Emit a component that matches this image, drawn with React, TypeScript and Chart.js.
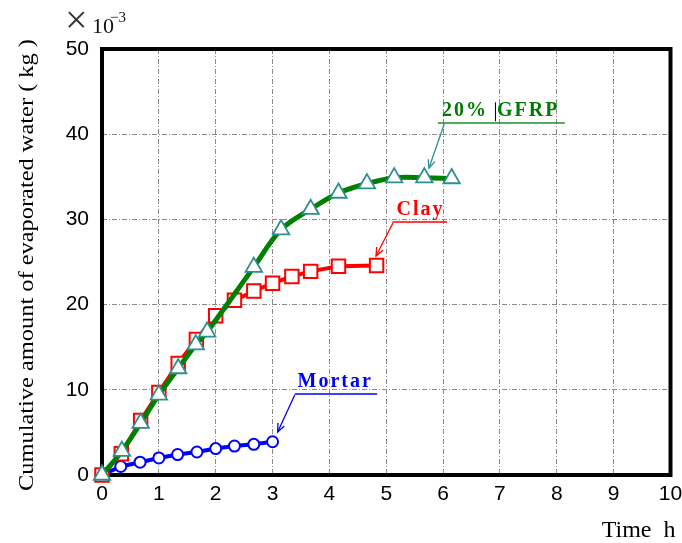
import React, { useEffect, useRef } from "react";
import { Chart, registerables } from "chart.js";

Chart.register(...registerables);

// ---- data ----
const gfrpTime = [0, 0.35, 0.68, 1.0, 1.34, 1.65, 1.85, 2.67, 3.15, 3.67, 4.16, 4.66, 5.14, 5.67, 6.15];
const gfrpWater = [0, 2.8, 6.1, 9.4, 12.5, 15.3, 16.8, 24.4, 28.8, 31.2, 33.1, 34.2, 34.9, 34.9, 34.8];

const clayTime = [0, 0.34, 0.68, 1.0, 1.34, 1.66, 2.0, 2.33, 2.67, 3.0, 3.34, 3.67, 4.16, 4.83];
const clayWater = [0, 2.5, 6.4, 9.7, 13.1, 15.9, 18.7, 20.5, 21.6, 22.5, 23.3, 23.9, 24.5, 24.6];

const mortarTime = [0, 0.33, 0.67, 1.0, 1.33, 1.67, 2.0, 2.33, 2.67, 3.0];
const mortarWater = [0, 1.0, 1.5, 2.0, 2.4, 2.7, 3.1, 3.4, 3.6, 3.9];

const xTicks = [0, 1, 2, 3, 4, 5, 6, 7, 8, 9, 10];
const yTicks = [0, 10, 20, 30, 40, 50];

const yTitle = "Cumulative amount of evaporated water ( kg )";
const xTitle = "Time  h";

// labels with leader lines, anchored in data units
const labels = [
  { text: "20% ", text2: "GFRP", color: "#007a00", lineColor: "#1f8f1f", arrowColor: "#2a8f8f",
    tx: 5.98, ty: 42.1, ux0: 5.91, ux1: 8.14, uy: 41.3, ax0: 6.02, ay0: 41.2, ax1: 5.75, ay1: 36.0 },
  { text: "Clay", text2: "", color: "#ff0000", lineColor: "#ff0000", arrowColor: "#ff0000",
    tx: 5.18, ty: 30.5, ux0: 5.11, ux1: 6.07, uy: 29.7, ax0: 5.12, ay0: 29.6, ax1: 4.82, ay1: 25.7 },
  { text: "Mortar", text2: "", color: "#0000ff", lineColor: "#0000ff", arrowColor: "#0000ff",
    tx: 3.44, ty: 10.3, ux0: 3.39, ux1: 4.84, uy: 9.5, ax0: 3.39, ay0: 9.4, ax1: 3.09, ay1: 5.05 },
];

const pts = (xs: number[], ys: number[]) => xs.map((x, i) => ({ x, y: ys[i] }));

function drawSpaced(ctx: CanvasRenderingContext2D, s: string, x: number, y: number, sp: number) {
  let cx = x;
  for (const ch of s) {
    ctx.fillText(ch, cx, y);
    cx += ctx.measureText(ch).width + sp;
  }
  return cx;
}

const decor = {
  id: "decor",
  beforeDatasetsDraw(chart: any) {
    const { ctx, chartArea: a } = chart;
    ctx.save();
    ctx.strokeStyle = "#000";
    ctx.lineWidth = 4;
    ctx.strokeRect(a.left, a.top, a.right - a.left, a.bottom - a.top);
    ctx.restore();
  },
  afterDraw(chart: any) {
    const { ctx, chartArea: a } = chart;
    const xs = chart.scales.x;
    const ys = chart.scales.y;
    ctx.save();
    // y title (stretched along its length to the reference span)
    ctx.fillStyle = "#000";
    ctx.font = '22px "Liberation Serif"';
    ctx.textAlign = "center";
    ctx.textBaseline = "alphabetic";
    const w = ctx.measureText(yTitle).width;
    const target = 452;
    ctx.save();
    ctx.translate(33, 265);
    ctx.rotate(-Math.PI / 2);
    ctx.scale(target / w, 1);
    ctx.fillText(yTitle, 0, 0);
    ctx.restore();
    // x title
    ctx.font = '24px "Liberation Serif"';
    ctx.textAlign = "right";
    ctx.fillText(xTitle, a.right + 5, 537);
    // multiplier
    ctx.textAlign = "left";
    ctx.font = '40px "Liberation Serif"';
    ctx.fillStyle = "#333";
    ctx.fillText("\u00d7", 65, 33);
    ctx.fillStyle = "#111";
    ctx.font = '22px "Liberation Serif"';
    ctx.fillText("10", 92, 33);
    ctx.font = '15px "Liberation Serif"';
    ctx.fillText("\u22123", 110, 22);

    // labels
    for (const l of labels) {
      const tx = xs.getPixelForValue(l.tx);
      const ty = ys.getPixelForValue(l.ty);
      ctx.font = 'bold 20px "Liberation Serif"';
      ctx.fillStyle = l.color;
      ctx.textAlign = "left";
      let end = drawSpaced(ctx, l.text, tx, ty, 2);
      if (l.text2) {
        ctx.strokeStyle = "#000";
        ctx.lineWidth = 1;
        ctx.beginPath();
        ctx.moveTo(end + 0.5, ty - 14);
        ctx.lineTo(end + 0.5, ty + 5);
        ctx.stroke();
        ctx.fillStyle = l.color;
        drawSpaced(ctx, l.text2, end + 2, ty, 2);
      }
      // underline
      ctx.strokeStyle = l.lineColor;
      ctx.lineWidth = 1.5;
      ctx.beginPath();
      ctx.moveTo(xs.getPixelForValue(l.ux0), ys.getPixelForValue(l.uy));
      ctx.lineTo(xs.getPixelForValue(l.ux1), ys.getPixelForValue(l.uy));
      ctx.stroke();
      // arrow
      const x0 = xs.getPixelForValue(l.ax0), y0 = ys.getPixelForValue(l.ay0);
      const x1 = xs.getPixelForValue(l.ax1), y1 = ys.getPixelForValue(l.ay1);
      ctx.strokeStyle = l.arrowColor;
      ctx.lineWidth = 1.3;
      ctx.beginPath();
      ctx.moveTo(x0, y0);
      ctx.lineTo(x1, y1);
      ctx.stroke();
      const ang = Math.atan2(y1 - y0, x1 - x0);
      const hl = 9, ha = 0.4;
      ctx.beginPath();
      ctx.moveTo(x1 - hl * Math.cos(ang - ha), y1 - hl * Math.sin(ang - ha));
      ctx.lineTo(x1, y1);
      ctx.lineTo(x1 - hl * Math.cos(ang + ha), y1 - hl * Math.sin(ang + ha));
      ctx.stroke();
    }
    ctx.restore();
  },
};

export default function App() {
  const ref = useRef<HTMLCanvasElement>(null);
  useEffect(() => {
    if (!ref.current) return;
    const chart = new Chart(ref.current, {
      type: "line",
      data: {
        datasets: [
          {
            label: "20% GFRP",
            data: pts(gfrpTime, gfrpWater),
            borderColor: "#008000",
            borderWidth: 5,
            tension: 0.35,
            pointStyle: "triangle",
            pointRadius: 9.5,
            pointBorderWidth: 1.8,
            pointBorderColor: "#2f8f8f",
            pointBackgroundColor: "#ffffff",
            clip: false as any,
          },
          {
            label: "Clay",
            data: pts(clayTime, clayWater),
            borderColor: "#ff0000",
            borderWidth: 4,
            tension: 0,
            pointStyle: "rect",
            pointRadius: 9.5,
            pointBorderWidth: 2,
            pointBorderColor: "#ff0000",
            pointBackgroundColor: "#ffffff",
            clip: false as any,
          },
          {
            label: "Mortar",
            data: pts(mortarTime, mortarWater),
            borderColor: "#0000ff",
            borderWidth: 4,
            tension: 0,
            pointStyle: "circle",
            pointRadius: 5.5,
            pointBorderWidth: 2,
            pointBorderColor: "#0000ff",
            pointBackgroundColor: "#ffffff",
            clip: false as any,
          },
        ],
      },
      options: {
        responsive: false,
        animation: false,
        layout: { padding: { left: 0, top: 49, right: 10, bottom: 0 } },
        plugins: { legend: { display: false }, tooltip: { enabled: false } },
        scales: {
          x: {
            type: "linear",
            min: 0,
            max: 10,
            afterFit: (s: any) => { s.height = 68; s.paddingLeft = 0; s.paddingRight = 0; },
            afterBuildTicks: (s: any) => { s.ticks = xTicks.map((v) => ({ value: v })); },
            ticks: { color: "#000", font: { family: "Liberation Sans", size: 21 }, padding: 7, maxRotation: 0 },
            grid: { color: "#8a8a8a", lineWidth: 1, drawTicks: false },
            border: { display: false, dash: [5, 2, 1, 2] },
          },
          y: {
            type: "linear",
            min: 0,
            max: 50,
            afterFit: (s: any) => { s.width = 102; s.paddingTop = 0; s.paddingBottom = 0; },
            afterBuildTicks: (s: any) => { s.ticks = yTicks.map((v) => ({ value: v })); },
            ticks: { color: "#000", font: { family: "Liberation Sans", size: 21 }, padding: 13 },
            grid: { color: "#8a8a8a", lineWidth: 1, drawTicks: false },
            border: { display: false, dash: [5, 2, 1, 2] },
          },
        },
      },
      plugins: [decor],
    });
    return () => chart.destroy();
  }, []);
  return (
    <div style={{ position: "fixed", left: 0, top: 0, width: 682, height: 543, background: "#fff" }}>
      <canvas ref={ref} width={682} height={543} style={{ display: "block" }} />
    </div>
  );
}
